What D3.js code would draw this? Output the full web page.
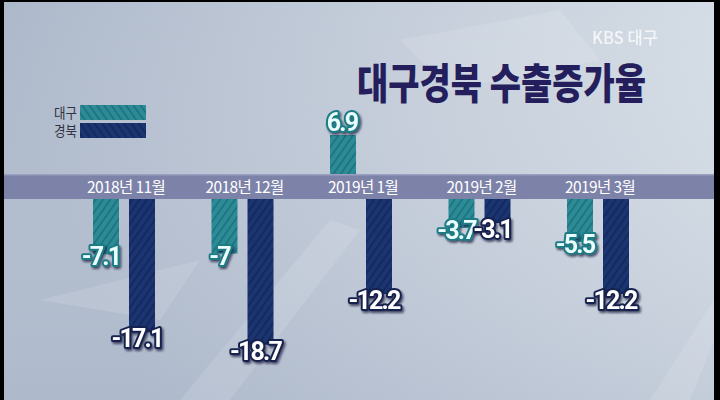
<!DOCTYPE html>
<html><head><meta charset="utf-8">
<script src="https://cdn.jsdelivr.net/npm/d3@7"></script>
<style>html,body{margin:0;padding:0;background:#000;}svg{display:block;}</style>
</head><body>
<svg id="chart" width="720" height="400"></svg>
<script>
const categories = ["2018년 11월", "2018년 12월", "2019년 1월", "2019년 2월", "2019년 3월"];
const seriesNames = ["대구", "경북"];
const daegu = [-7.1, -7, 6.9, -3.7, -5.5];
const gyeongbuk = [-17.1, -18.7, -12.2, -3.1, -12.2];
const valueLabels = { "대구": ["-7.1", "-7", "6.9", "-3.7", "-5.5"], "경북": ["-17.1", "-18.7", "-12.2", "-3.1", "-12.2"] };
const title = "대구경북 수출증가율";
const logo = "KBS 대구";

const svg = d3.select("#chart");
const W = 720, H = 400;
const defs = svg.append("defs");

const bg = defs.append("linearGradient").attr("id", "bg").attr("x1", "0").attr("y1", "0.3").attr("x2", "1").attr("y2", "0");
bg.append("stop").attr("offset", "0").attr("stop-color", "#a9b5c8");
bg.append("stop").attr("offset", "0.55").attr("stop-color", "#c3ccd9");
bg.append("stop").attr("offset", "1").attr("stop-color", "#d4dce5");
const bg2 = defs.append("linearGradient").attr("id", "bg2").attr("x1", "0").attr("y1", "0").attr("x2", "0").attr("y2", "1");
bg2.append("stop").attr("offset", "0").attr("stop-color", "#ffffff").attr("stop-opacity", 0.0);
bg2.append("stop").attr("offset", "1").attr("stop-color", "#b7c1d2").attr("stop-opacity", 0.35);

const colors = { "대구": { base: "#2b8c98", line: "#1f6f79", stroke: "#1d7c86", text: "#eafcfc" },
                 "경북": { base: "#1b3572", line: "#132758", stroke: "#16224d", text: "#ffffff" } };

function hatch(id, base, line, angle) {
  const p = defs.append("pattern").attr("id", id).attr("patternUnits", "userSpaceOnUse")
    .attr("width", 6).attr("height", 6).attr("patternTransform", `rotate(${angle})`);
  p.append("rect").attr("width", 6).attr("height", 6).attr("fill", base);
  p.append("rect").attr("x", 0).attr("width", 1.6).attr("height", 6).attr("fill", line);
}
seriesNames.forEach((s, i) => {
  hatch("h" + i, colors[s].base, colors[s].line, 35);
  hatch("l" + i, colors[s].base, colors[s].line, -35);
});

const sh = defs.append("filter").attr("id", "shadow").attr("x", "-20%").attr("y", "-20%").attr("width", "140%").attr("height", "150%");
sh.append("feDropShadow").attr("dx", 1.5).attr("dy", 2).attr("stdDeviation", 1.2).attr("flood-color", "#0a1030").attr("flood-opacity", 0.7);

svg.append("rect").attr("width", W).attr("height", H).attr("fill", "#000");
svg.append("rect").attr("x", 4).attr("y", 2).attr("width", 710).attr("height", 398).attr("fill", "url(#bg)");
svg.append("rect").attr("x", 4).attr("y", 2).attr("width", 710).attr("height", 398).attr("fill", "url(#bg2)");
const streaks = [[[180,400],[330,220],[360,230],[230,400]],[[650,400],[714,300],[714,340],[690,400]],[[400,40],[560,10],[600,60],[450,90]],[[40,300],[200,260],[160,320]]];
svg.append("g").selectAll("path").data(streaks).join("path")
  .attr("d", d => "M" + d.join("L") + "Z").attr("fill", "#ffffff").attr("opacity", 0.12);

svg.append("text").attr("x", 592).attr("y", 44).text(logo)
  .attr("font-family", "'Noto Sans CJK KR', sans-serif").attr("font-size", 17).attr("font-weight", 500)
  .attr("fill", "#ffffff").attr("opacity", 0.75).attr("textLength", 66).attr("lengthAdjust", "spacingAndGlyphs");

svg.append("text").attr("x", 357).attr("y", 99).text(title)
  .attr("font-family", "'Noto Sans CJK KR', sans-serif").attr("font-size", 42).attr("font-weight", 900)
  .attr("fill", "#241f5c").attr("textLength", 289).attr("lengthAdjust", "spacingAndGlyphs");

const bandTop = 174, bandBottom = 199;
svg.append("rect").attr("x", 4).attr("y", bandTop).attr("width", 710).attr("height", bandBottom - bandTop).attr("fill", "#7d82a9");
svg.append("rect").attr("x", 4).attr("y", bandTop).attr("width", 710).attr("height", 1.5).attr("fill", "#9a9fc0");

const x0 = d3.scaleBand().domain(categories).range([64.75, 657.25]);
const x1 = d3.scaleBand().domain(seriesNames).range([-31, 31]).paddingInner(0.278).paddingOuter(0);
const yNeg = d3.scaleLinear().domain([0, -20]).range([bandBottom, bandBottom + 156]);
const yPos = d3.scaleLinear().domain([0, 10]).range([bandTop, bandTop - 56.5]);

svg.append("g").selectAll("text").data(categories).join("text")
  .attr("x", d => x0(d) + x0.bandwidth() / 2 + 2).attr("y", 193).attr("text-anchor", "middle")
  .attr("font-family", "'Noto Sans CJK KR', sans-serif").attr("font-size", 15.5).attr("fill", "#ffffff")
  .attr("letter-spacing", -0.6).text(d => d);

const seriesData = { "대구": daegu, "경북": gyeongbuk };
const bars = [];
seriesNames.forEach((s, si) => seriesData[s].forEach((v, i) => bars.push({ s, si, cat: categories[i], v, label: valueLabels[s][i] })));

const g = svg.append("g");
g.selectAll("rect").data(bars).join("rect")
  .attr("x", d => x0(d.cat) + x0.bandwidth() / 2 + x1(d.s))
  .attr("width", x1.bandwidth())
  .attr("y", d => d.v >= 0 ? yPos(d.v) : bandBottom)
  .attr("height", d => d.v >= 0 ? bandTop - yPos(d.v) : yNeg(d.v) - bandBottom)
  .attr("fill", d => `url(#h${d.si})`);

g.selectAll("text").data(bars).join("text")
  .attr("x", d => x0(d.cat) + x0.bandwidth() / 2 + x1(d.s) + x1.bandwidth() / 2 - (d.v >= 0 ? 1 : 5))
  .attr("y", d => d.v >= 0 ? yPos(d.v) - 4 : yNeg(d.v) + (d.s === "대구" ? 11 : 15))
  .attr("text-anchor", "middle")
  .attr("font-family", "Roboto, sans-serif").attr("font-weight", 700).attr("font-size", 25)
  .attr("letter-spacing", -1.8)
  .attr("fill", d => colors[d.s].text).attr("stroke", d => colors[d.s].stroke).attr("stroke-width", 4)
  .attr("stroke-linejoin", "round").attr("paint-order", "stroke").attr("filter", "url(#shadow)")
  .text(d => d.label);

const leg = svg.append("g");
seriesNames.forEach((s, i) => {
  leg.append("rect").attr("x", 80).attr("y", 105 + i * 18).attr("width", 66).attr("height", 15).attr("fill", `url(#l${i})`);
  leg.append("text").attr("x", 77).attr("y", 118 + i * 18).attr("text-anchor", "end")
    .attr("font-family", "'Noto Sans CJK KR', sans-serif").attr("font-size", 14).attr("fill", "#2f3440")
    .attr("textLength", 23).attr("lengthAdjust", "spacingAndGlyphs").text(s);
});
</script>
</body></html>
